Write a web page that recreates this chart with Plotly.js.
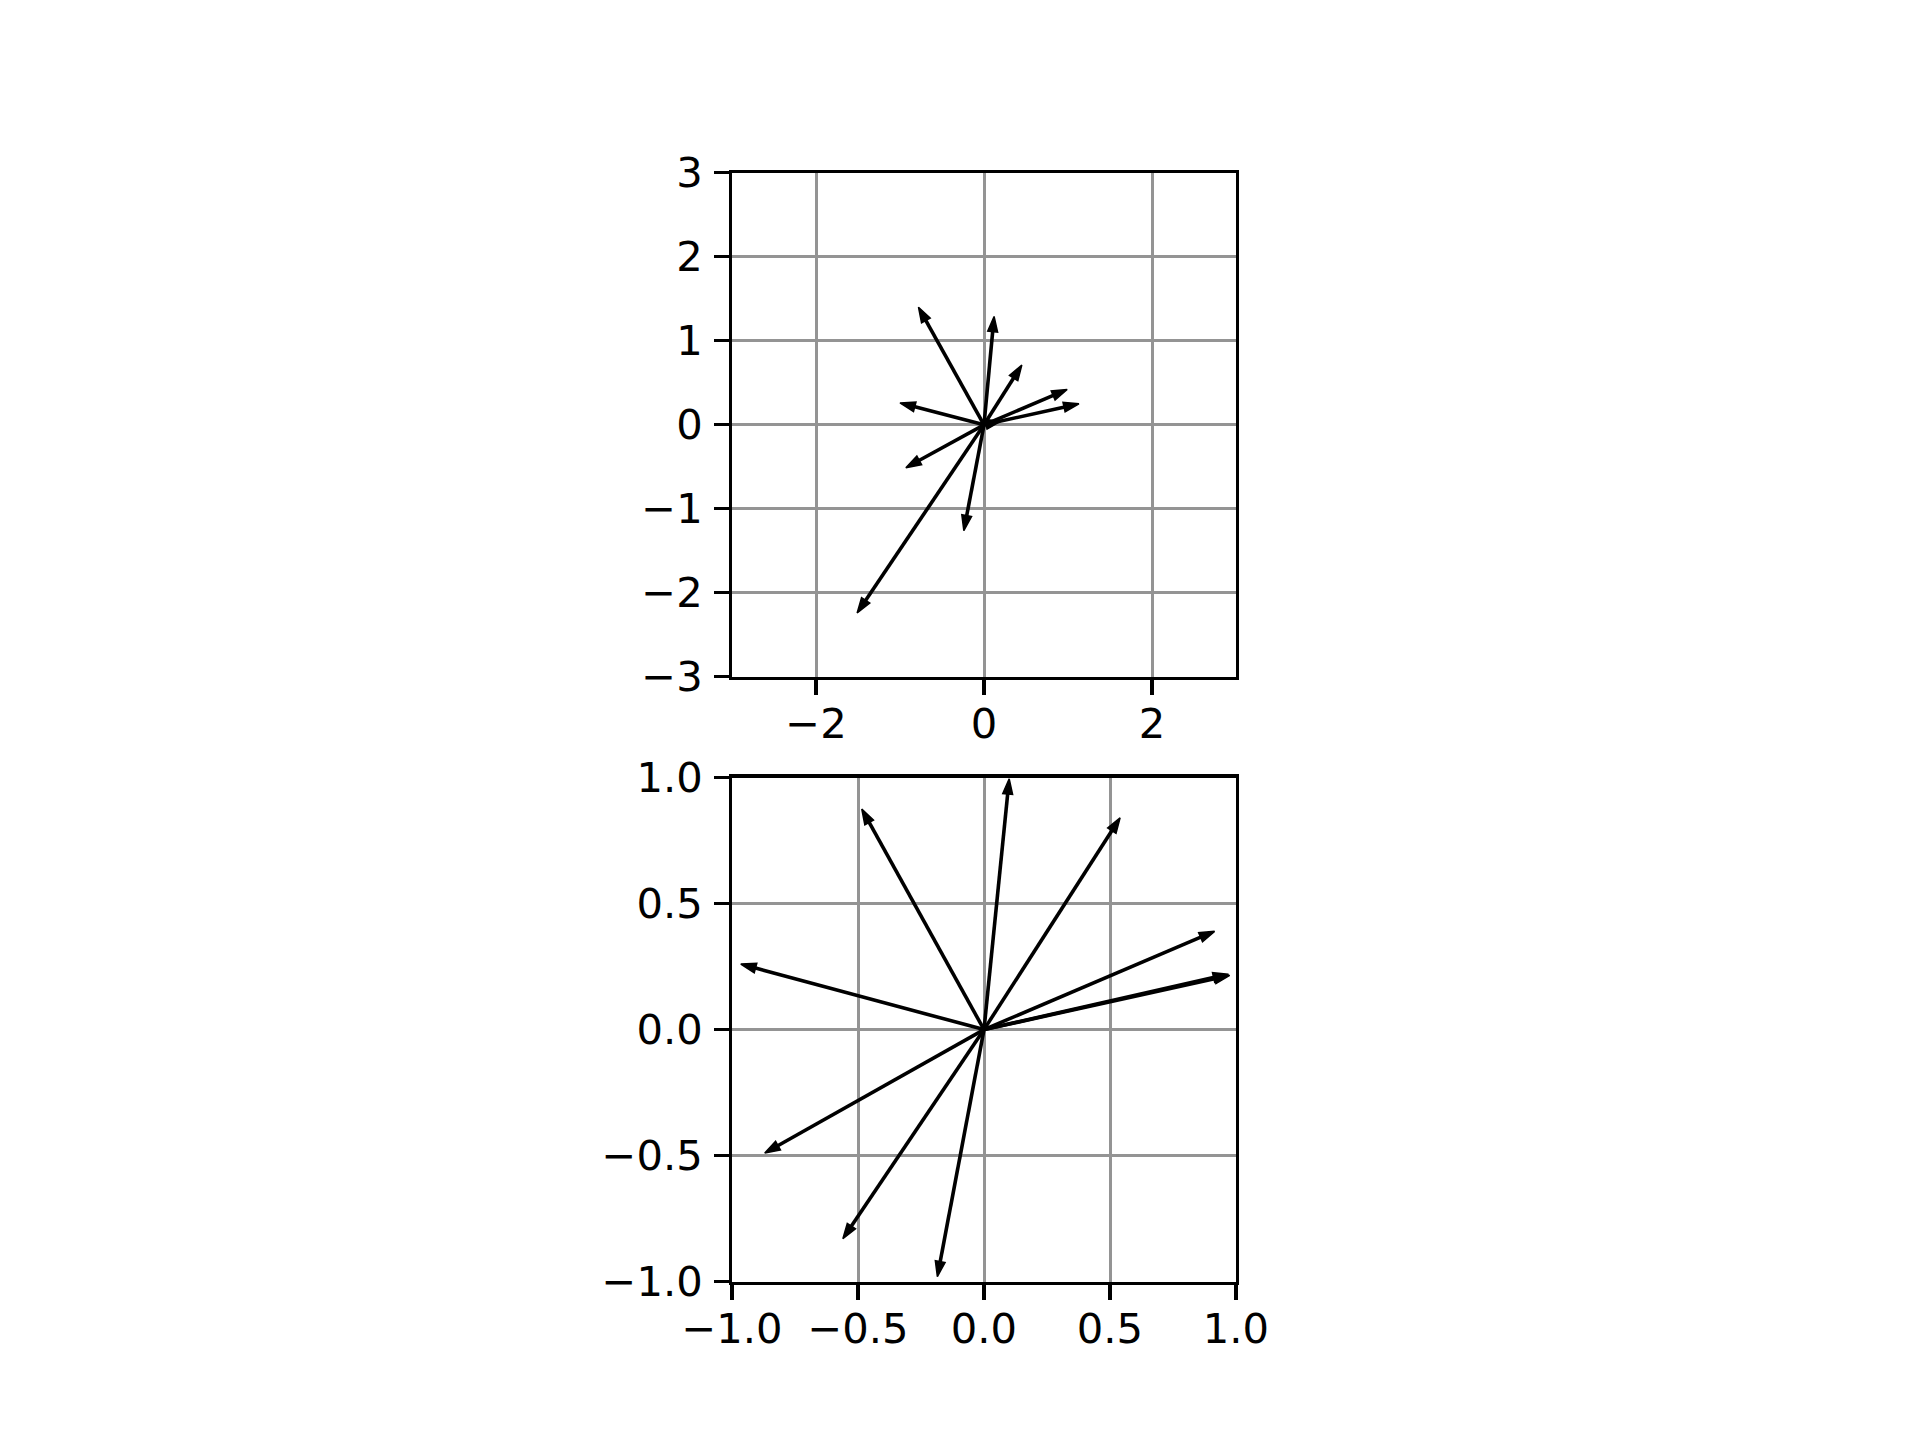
<!DOCTYPE html>
<html>
<head>
<meta charset="utf-8">
<script src="https://cdn.plot.ly/plotly-3.0.1.min.js"></script>
<style>html,body{margin:0;padding:0;background:#fff;}</style>
</head>
<body>
<div id="chart" style="width:1920px;height:1440px;"></div>
<script>
// Top panel: raw vectors (from origin)
var topU = [-0.78, 0.12, 0.45, 0.99, 1.13, 0.20, -1.00, -0.93, -0.24, -1.51];
var topV = [1.40, 1.29, 0.71, 0.42, 0.25, 0.045, 0.26, -0.51, -1.26, -2.24];
// Bottom panel: normalized vectors
var botU = [-0.485, 0.10, 0.54, 0.915, 0.97, 0.975, -0.965, -0.87, -0.185, -0.56];
var botV = [0.875, 0.995, 0.84, 0.39, 0.22, 0.215, 0.26, -0.49, -0.98, -0.83];

var topTicksX = [-2, 0, 2];
var topTicksY = [-3, -2, -1, 0, 1, 2, 3];
var botTicks = [-1.0, -0.5, 0.0, 0.5, 1.0];

var traces = [];
function addArrows(U, V, xa, ya) {
  for (var i = 0; i < U.length; i++) {
    traces.push({
      type: 'scatter', mode: 'lines+markers',
      x: [0, U[i]], y: [0, V[i]],
      xaxis: xa, yaxis: ya,
      line: {color: '#000', width: 3.6},
      marker: {symbol: ['circle', 'arrow'], size: [0, 16], angleref: 'previous',
               color: '#000', opacity: 1, line: {width: 1.5, color: '#000'}},
      hoverinfo: 'skip', showlegend: false
    });
  }
}
addArrows(topU, topV, 'x', 'y');
addArrows(botU, botV, 'x2', 'y2');

var font = {family: 'DejaVu Sans, sans-serif', size: 41.7, color: '#000'};
function ax(domain, range, tickvals, fmt, anchor, standoff) {
  return {
    domain: domain, range: range, anchor: anchor,
    tickmode: 'array', tickvals: tickvals, tickformat: fmt,
    ticks: 'outside', ticklen: 14.6, tickwidth: 3.3, tickcolor: '#000',
    ticklabelstandoff: standoff,
    showline: true, linewidth: 3.3, linecolor: '#000', mirror: true,
    showgrid: true, gridcolor: '#949494', gridwidth: 3,
    zeroline: false, tickfont: font, fixedrange: true
  };
}
var xd = [732/1920, 1236/1920];
var layout = {
  width: 1920, height: 1440,
  margin: {l: 0, r: 0, t: 0, b: 0},
  paper_bgcolor: '#fff', plot_bgcolor: '#fff',
  showlegend: false,
  xaxis: ax(xd, [-3, 3], topTicksX, 'd', 'y', -7),
  yaxis: ax([1 - 676.8/1440, 1 - 172.8/1440], [-3, 3], topTicksY, 'd', 'x', 3),
  xaxis2: ax(xd, [-1, 1], botTicks, '.1f', 'y2', -7),
  yaxis2: ax([1 - 1281.6/1440, 1 - 777.6/1440], [-1, 1], botTicks, '.1f', 'x2', 3)
};
Plotly.newPlot('chart', traces, layout, {staticPlot: true, displayModeBar: false});
</script>
</body>
</html>
